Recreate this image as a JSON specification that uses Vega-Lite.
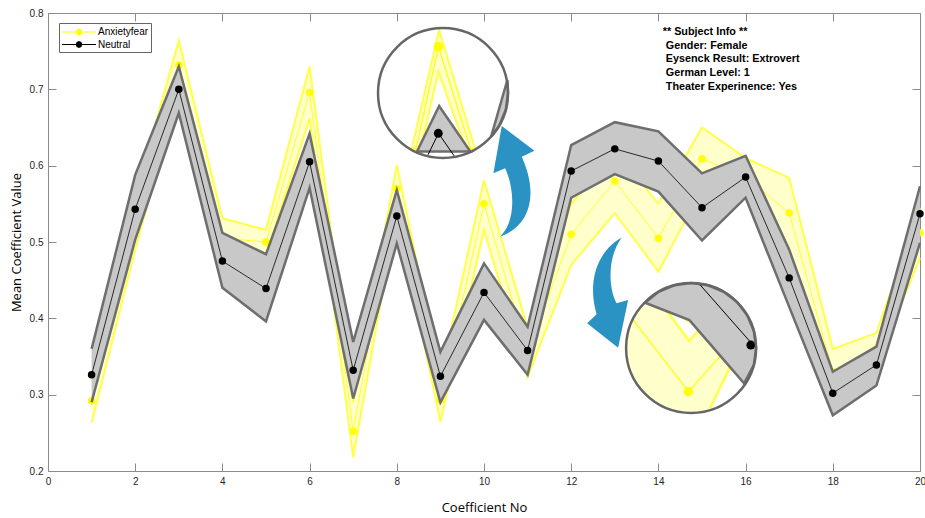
{
  "$schema": "https://vega.github.io/schema/vega-lite/v6.json",
  "width": 872,
  "height": 458,
  "autosize": "none",
  "padding": {"left": 48, "top": 13, "right": 5, "bottom": 47},
  "background": "white",
  "config": {"view": {"stroke": "#8c8c8c", "strokeWidth": 1}, "font": "Liberation Sans"},
  "datasets": {
    "d": [
      {"x": 1, "g": "Neutral", "m": 0.326, "lo": 0.290, "hi": 0.360},
      {"x": 2, "g": "Neutral", "m": 0.543, "lo": 0.503, "hi": 0.588},
      {"x": 3, "g": "Neutral", "m": 0.700, "lo": 0.669, "hi": 0.730},
      {"x": 4, "g": "Neutral", "m": 0.475, "lo": 0.440, "hi": 0.512},
      {"x": 5, "g": "Neutral", "m": 0.439, "lo": 0.396, "hi": 0.484},
      {"x": 6, "g": "Neutral", "m": 0.605, "lo": 0.571, "hi": 0.642},
      {"x": 7, "g": "Neutral", "m": 0.332, "lo": 0.295, "hi": 0.369},
      {"x": 8, "g": "Neutral", "m": 0.534, "lo": 0.498, "hi": 0.568},
      {"x": 9, "g": "Neutral", "m": 0.324, "lo": 0.290, "hi": 0.356},
      {"x": 10, "g": "Neutral", "m": 0.434, "lo": 0.398, "hi": 0.472},
      {"x": 11, "g": "Neutral", "m": 0.358, "lo": 0.326, "hi": 0.389},
      {"x": 12, "g": "Neutral", "m": 0.593, "lo": 0.558, "hi": 0.627},
      {"x": 13, "g": "Neutral", "m": 0.622, "lo": 0.589, "hi": 0.657},
      {"x": 14, "g": "Neutral", "m": 0.606, "lo": 0.566, "hi": 0.645},
      {"x": 15, "g": "Neutral", "m": 0.545, "lo": 0.502, "hi": 0.590},
      {"x": 16, "g": "Neutral", "m": 0.585, "lo": 0.558, "hi": 0.613},
      {"x": 17, "g": "Neutral", "m": 0.453, "lo": 0.415, "hi": 0.490},
      {"x": 18, "g": "Neutral", "m": 0.302, "lo": 0.273, "hi": 0.330},
      {"x": 19, "g": "Neutral", "m": 0.339, "lo": 0.312, "hi": 0.363},
      {"x": 20, "g": "Neutral", "m": 0.537, "lo": 0.499, "hi": 0.573},
      {"x": 1, "g": "Anxietyfear", "m": 0.292, "lo": 0.263, "hi": 0.320},
      {"x": 2, "g": "Anxietyfear", "m": 0.525, "lo": 0.490, "hi": 0.560},
      {"x": 3, "g": "Anxietyfear", "m": 0.732, "lo": 0.700, "hi": 0.764},
      {"x": 4, "g": "Anxietyfear", "m": 0.505, "lo": 0.480, "hi": 0.531},
      {"x": 5, "g": "Anxietyfear", "m": 0.500, "lo": 0.483, "hi": 0.516},
      {"x": 6, "g": "Anxietyfear", "m": 0.696, "lo": 0.662, "hi": 0.730},
      {"x": 7, "g": "Anxietyfear", "m": 0.252, "lo": 0.218, "hi": 0.290},
      {"x": 8, "g": "Anxietyfear", "m": 0.570, "lo": 0.540, "hi": 0.601},
      {"x": 9, "g": "Anxietyfear", "m": 0.293, "lo": 0.264, "hi": 0.322},
      {"x": 10, "g": "Anxietyfear", "m": 0.550, "lo": 0.516, "hi": 0.581},
      {"x": 11, "g": "Anxietyfear", "m": 0.355, "lo": 0.323, "hi": 0.388},
      {"x": 12, "g": "Anxietyfear", "m": 0.510, "lo": 0.470, "hi": 0.550},
      {"x": 13, "g": "Anxietyfear", "m": 0.580, "lo": 0.538, "hi": 0.620},
      {"x": 14, "g": "Anxietyfear", "m": 0.505, "lo": 0.461, "hi": 0.550},
      {"x": 15, "g": "Anxietyfear", "m": 0.609, "lo": 0.570, "hi": 0.650},
      {"x": 16, "g": "Anxietyfear", "m": 0.585, "lo": 0.560, "hi": 0.610},
      {"x": 17, "g": "Anxietyfear", "m": 0.538, "lo": 0.492, "hi": 0.584},
      {"x": 18, "g": "Anxietyfear", "m": 0.330, "lo": 0.300, "hi": 0.360},
      {"x": 19, "g": "Anxietyfear", "m": 0.360, "lo": 0.340, "hi": 0.381},
      {"x": 20, "g": "Anxietyfear", "m": 0.512, "lo": 0.479, "hi": 0.545}
    ],
    "inset1": [{"x": 9.06, "y": 0.6952}],
    "inset2": [{"x": 14.75, "y": 0.3611}],
    "insets": [{"x": 9.06, "y": 0.6952}, {"x": 14.75, "y": 0.3611}]
  },
  "resolve": {"axis": {"x": "independent", "y": "independent"}},
  "layer": [
    {
      "data": {"name": "d"},
      "transform": [{"filter": "datum.g === 'Anxietyfear'"}],
      "mark": {"type": "area", "fill": "#ffffcc", "opacity": 1},
      "encoding": {
        "x": {"field": "x", "type": "quantitative", "scale": {"domain": [0, 20], "nice": false, "zero": false},
          "axis": {"orient": "bottom", "values": [0, 2, 4, 6, 8, 10, 12, 14, 16, 18, 20], "format": "d", "tickSize": -8, "tickColor": "#8c8c8c", "domain": false, "grid": false, "labelFont": "Liberation Sans", "labelFontSize": 10, "labelColor": "#262626", "labelPadding": 13, "labelFlush": false, "title": "Coefficient No", "titleFont": "Open Sans", "titleFontSize": 13, "titleFontWeight": "normal", "titleColor": "#000", "titlePadding": 15}},
        "y": {"field": "lo", "type": "quantitative", "scale": {"domain": [0.2, 0.8], "nice": false, "zero": false},
          "axis": {"orient": "left", "values": [0.2, 0.3, 0.4, 0.5, 0.6, 0.7, 0.8], "format": ".1f", "tickSize": -8, "tickColor": "#8c8c8c", "domain": false, "grid": false, "labelFont": "Liberation Sans", "labelFontSize": 10, "labelColor": "#262626", "labelPadding": 13, "labelFlush": false, "title": "Mean Coefficient Value", "titleFont": "Open Sans", "titleFontSize": 13, "titleFontWeight": "normal", "titleColor": "#000", "titlePadding": 6}},
        "y2": {"field": "hi"}
      }
    },
    {
      "data": {"name": "d"},
      "transform": [{"filter": "datum.g === 'Anxietyfear'"}],
      "mark": {"type": "line", "stroke": "#ffff48", "strokeWidth": 2},
      "encoding": {"x": {"field": "x", "type": "quantitative", "axis": null}, "y": {"field": "lo", "type": "quantitative", "axis": null}}
    },
    {
      "data": {"name": "d"},
      "transform": [{"filter": "datum.g === 'Anxietyfear'"}],
      "mark": {"type": "line", "stroke": "#ffff48", "strokeWidth": 2},
      "encoding": {"x": {"field": "x", "type": "quantitative", "axis": null}, "y": {"field": "hi", "type": "quantitative", "axis": null}}
    },
    {
      "data": {"name": "d"},
      "transform": [{"filter": "datum.g === 'Anxietyfear'"}],
      "mark": {"type": "line", "stroke": "#ffff00", "strokeWidth": 0.8},
      "encoding": {"x": {"field": "x", "type": "quantitative", "axis": null}, "y": {"field": "m", "type": "quantitative", "axis": null}}
    },
    {
      "data": {"name": "d"},
      "transform": [{"filter": "datum.g === 'Anxietyfear'"}],
      "mark": {"type": "point", "shape": "circle", "filled": true, "fill": "#ffff00", "size": 56, "opacity": 1},
      "encoding": {"x": {"field": "x", "type": "quantitative", "axis": null}, "y": {"field": "m", "type": "quantitative", "axis": null}}
    },
    {
      "data": {"name": "d"},
      "transform": [{"filter": "datum.g === 'Neutral'"}],
      "mark": {"type": "area", "fill": "#c8c8c8", "opacity": 1},
      "encoding": {
        "x": {"field": "x", "type": "quantitative", "axis": {"orient": "top", "values": [0, 2, 4, 6, 8, 10, 12, 14, 16, 18, 20], "tickSize": -8, "tickColor": "#8c8c8c", "domain": false, "grid": false, "labels": false, "title": null}},
        "y": {"field": "lo", "type": "quantitative", "axis": {"orient": "right", "values": [0.2, 0.3, 0.4, 0.5, 0.6, 0.7, 0.8], "tickSize": -8, "tickColor": "#8c8c8c", "domain": false, "grid": false, "labels": false, "title": null}},
        "y2": {"field": "hi"}
      }
    },
    {
      "data": {"name": "d"},
      "transform": [{"filter": "datum.g === 'Neutral'"}],
      "mark": {"type": "line", "stroke": "#6e6e6e", "strokeWidth": 2.5},
      "encoding": {"x": {"field": "x", "type": "quantitative", "axis": null}, "y": {"field": "lo", "type": "quantitative", "axis": null}}
    },
    {
      "data": {"name": "d"},
      "transform": [{"filter": "datum.g === 'Neutral'"}],
      "mark": {"type": "line", "stroke": "#6e6e6e", "strokeWidth": 2.5},
      "encoding": {"x": {"field": "x", "type": "quantitative", "axis": null}, "y": {"field": "hi", "type": "quantitative", "axis": null}}
    },
    {
      "data": {"name": "d"},
      "transform": [{"filter": "datum.g === 'Neutral'"}],
      "mark": {"type": "line", "stroke": "#000000", "strokeWidth": 0.8},
      "encoding": {"x": {"field": "x", "type": "quantitative", "axis": null}, "y": {"field": "m", "type": "quantitative", "axis": null}}
    },
    {
      "data": {"name": "d"},
      "transform": [{"filter": "datum.g === 'Neutral'"}],
      "mark": {"type": "point", "shape": "circle", "filled": true, "size": 56, "opacity": 1},
      "encoding": {
        "x": {"field": "x", "type": "quantitative", "axis": null},
        "y": {"field": "m", "type": "quantitative", "axis": null},
        "color": {"field": "g", "type": "nominal", "scale": {"domain": ["Anxietyfear", "Neutral"], "range": ["#ffff00", "#000000"]},
          "legend": {"orient": "none", "legendX": 11, "legendY": 10, "title": null,
            "symbolType": "M-2.5,-0.07L2.5,-0.07L2.5,0.07L-2.5,0.07ZM0.5,0L0.35,0.35L0,0.5L-0.35,0.35L-0.5,0L-0.35,-0.35L0,-0.5L0.35,-0.35Z",
            "symbolSize": 185, "symbolStrokeWidth": 0, "symbolOffset": 11, "labelOffset": 12,
            "labelFont": "Liberation Sans", "labelFontSize": 10, "labelColor": "#000",
            "padding": 2, "rowPadding": 0.5, "strokeColor": "#666", "fillColor": "#ffffff",
            "encode": {"symbols": {"update": {"fill": {"scale": "color", "field": "value"}, "opacity": {"value": 1}}}}}}
      }
    },
    {
      "data": {"name": "insets"},
      "mark": {"type": "point", "shape": "circle", "size": 16900, "filled": true, "fill": "#ffffff", "opacity": 1},
      "encoding": {"x": {"field": "x", "type": "quantitative", "axis": null}, "y": {"field": "y", "type": "quantitative", "axis": null}}
    },
    {
      "data": {"name": "inset1"},
      "mark": {"type": "point", "shape": "M-0.48,0.85L-0.06,-0.97L0.49,0.85L0.36,0.88L-0.07,-0.33L-0.35,0.88Z", "size": 16900, "filled": true, "fill": "#ffffcc", "stroke": "#ffff48", "strokeWidth": 2, "opacity": 1},
      "encoding": {"x": {"field": "x", "type": "quantitative", "axis": null}, "y": {"field": "y", "type": "quantitative", "axis": null}}
    },
    {
      "data": {"name": "inset1"},
      "mark": {"type": "point", "shape": "M-0.42,0.88L-0.07,-0.71L0.43,0.88", "size": 16900, "filled": false, "stroke": "#ffff00", "strokeWidth": 1.2, "opacity": 1},
      "encoding": {"x": {"field": "x", "type": "quantitative", "axis": null}, "y": {"field": "y", "type": "quantitative", "axis": null}}
    },
    {
      "data": {"name": "inset1"},
      "mark": {"type": "point", "shape": "M-0.06,0.2L-0.4,0.9L0.42,0.9Z", "size": 16900, "filled": true, "fill": "#c8c8c8", "stroke": "#6e6e6e", "strokeWidth": 2.5, "opacity": 1},
      "encoding": {"x": {"field": "x", "type": "quantitative", "axis": null}, "y": {"field": "y", "type": "quantitative", "axis": null}}
    },
    {
      "data": {"name": "inset1"},
      "mark": {"type": "point", "shape": "M0.99,-0.2L0.74,0.67L0.866,0.5L0.966,0.259L1,0Z", "size": 16900, "filled": true, "fill": "#c8c8c8", "stroke": "#6e6e6e", "strokeWidth": 2.5, "opacity": 1},
      "encoding": {"x": {"field": "x", "type": "quantitative", "axis": null}, "y": {"field": "y", "type": "quantitative", "axis": null}}
    },
    {
      "data": {"name": "inset1"},
      "mark": {"type": "point", "shape": "M-0.23,0.95L-0.07,0.62L0.18,0.98", "size": 16900, "filled": false, "stroke": "#000000", "strokeWidth": 1, "opacity": 1},
      "encoding": {"x": {"field": "x", "type": "quantitative", "axis": null}, "y": {"field": "y", "type": "quantitative", "axis": null}}
    },
    {
      "data": {"name": "inset2"},
      "mark": {"type": "point", "shape": "M-0.708,-0.697L-0.866,-0.5L-0.966,-0.259L-1,0L-0.966,0.259L-0.866,0.5L-0.707,0.707L-0.5,0.866L-0.259,0.966L0,1L0.29,0.93L0.6,0.29L-0.026,-0.43Z", "size": 16900, "filled": true, "fill": "#ffffcc", "strokeWidth": 0, "opacity": 1},
      "encoding": {"x": {"field": "x", "type": "quantitative", "axis": null}, "y": {"field": "y", "type": "quantitative", "axis": null}}
    },
    {
      "data": {"name": "inset2"},
      "mark": {"type": "point", "shape": "M0.29,0.93L0.6,0.29", "size": 16900, "filled": false, "stroke": "#ffff48", "strokeWidth": 2.5, "opacity": 1},
      "encoding": {"x": {"field": "x", "type": "quantitative", "axis": null}, "y": {"field": "y", "type": "quantitative", "axis": null}}
    },
    {
      "data": {"name": "inset2"},
      "mark": {"type": "point", "shape": "M-0.4,-0.6L-0.03,-0.11L0.16,-0.32Z", "size": 16900, "filled": true, "fill": "#ffffff", "stroke": "#ffff48", "strokeWidth": 2.5, "opacity": 1},
      "encoding": {"x": {"field": "x", "type": "quantitative", "axis": null}, "y": {"field": "y", "type": "quantitative", "axis": null}}
    },
    {
      "data": {"name": "inset2"},
      "mark": {"type": "point", "shape": "M-0.89,-0.43L-0.04,0.67L0.45,0.12", "size": 16900, "filled": false, "stroke": "#ffff00", "strokeWidth": 1.2, "opacity": 1},
      "encoding": {"x": {"field": "x", "type": "quantitative", "axis": null}, "y": {"field": "y", "type": "quantitative", "axis": null}}
    },
    {
      "data": {"name": "inset2"},
      "mark": {"type": "point", "shape": "M-0.708,-0.697L-0.026,-0.43L0.815,0.543L0.966,0.259L1,0L0.966,-0.259L0.866,-0.5L0.707,-0.707L0.5,-0.866L0.259,-0.966L0,-1L-0.259,-0.966L-0.5,-0.866Z", "size": 16900, "filled": true, "fill": "#c8c8c8", "stroke": "#6e6e6e", "strokeWidth": 2.5, "opacity": 1},
      "encoding": {"x": {"field": "x", "type": "quantitative", "axis": null}, "y": {"field": "y", "type": "quantitative", "axis": null}}
    },
    {
      "data": {"name": "inset2"},
      "mark": {"type": "point", "shape": "M0.14,-0.97L0.95,-0.05", "size": 16900, "filled": false, "stroke": "#000000", "strokeWidth": 1, "opacity": 1},
      "encoding": {"x": {"field": "x", "type": "quantitative", "axis": null}, "y": {"field": "y", "type": "quantitative", "axis": null}}
    },
    {
      "data": {"values": [{"x": 8.952, "y": 0.7559}, {"x": 14.686, "y": 0.3039}]},
      "mark": {"type": "point", "shape": "circle", "size": 90, "filled": true, "fill": "#ffff00", "opacity": 1},
      "encoding": {"x": {"field": "x", "type": "quantitative", "axis": null}, "y": {"field": "y", "type": "quantitative", "axis": null}}
    },
    {
      "data": {"values": [{"x": 8.952, "y": 0.6424}, {"x": 16.12, "y": 0.365}]},
      "mark": {"type": "point", "shape": "circle", "size": 80, "filled": true, "fill": "#000000", "opacity": 1},
      "encoding": {"x": {"field": "x", "type": "quantitative", "axis": null}, "y": {"field": "y", "type": "quantitative", "axis": null}}
    },
    {
      "data": {"name": "insets"},
      "mark": {"type": "point", "shape": "circle", "size": 16900, "filled": false, "stroke": "#666666", "strokeWidth": 2.5, "opacity": 1},
      "encoding": {"x": {"field": "x", "type": "quantitative", "axis": null}, "y": {"field": "y", "type": "quantitative", "axis": null}}
    },
    {
      "data": {"values": [{"x": 10.69, "y": 0.5793}]},
      "mark": {"type": "point", "shape": "M-0.25,0.985C0.28,0.8 0.45,0.25 0.137,-0.443L0.363,-0.55L-0.22,-0.99L-0.37,-0.146L-0.16,-0.236C0,0.1 0.05,0.7 -0.25,0.985Z", "size": 12544, "filled": true, "fill": "#2a93c4", "strokeWidth": 0, "opacity": 1},
      "encoding": {"x": {"field": "x", "type": "quantitative", "axis": null}, "y": {"field": "y", "type": "quantitative", "axis": null}}
    },
    {
      "data": {"values": [{"x": 12.84, "y": 0.4339}]},
      "mark": {"type": "point", "shape": "M0.245,-0.979C-0.1,-0.8 -0.4,-0.3 -0.2,0.389L-0.37,0.55L0.184,0.986L0.3625,0.134L0.155,0.193C0,-0.1 0,-0.65 0.245,-0.979Z", "size": 12544, "filled": true, "fill": "#2a93c4", "strokeWidth": 0, "opacity": 1},
      "encoding": {"x": {"field": "x", "type": "quantitative", "axis": null}, "y": {"field": "y", "type": "quantitative", "axis": null}}
    },
    {
      "data": {"values": [{"x": 14.1, "y": 0.7716, "t": "** Subject Info **"}]},
      "mark": {"type": "text", "align": "left", "baseline": "alphabetic", "font": "Liberation Sans", "fontWeight": "bold", "fontSize": 10.8, "fill": "#000000"},
      "encoding": {"x": {"field": "x", "type": "quantitative", "axis": null}, "y": {"field": "y", "type": "quantitative", "axis": null}, "text": {"field": "t"}}
    },
    {
      "data": {"values": [{"x": 14.17, "y": 0.7534, "t": "Gender: Female\nEysenck Result: Extrovert\nGerman Level: 1\nTheater Experinence: Yes"}]},
      "mark": {"type": "text", "align": "left", "baseline": "alphabetic", "lineBreak": "\n", "lineHeight": 13.9, "font": "Liberation Sans", "fontWeight": "bold", "fontSize": 10.8, "fill": "#000000"},
      "encoding": {"x": {"field": "x", "type": "quantitative", "axis": null}, "y": {"field": "y", "type": "quantitative", "axis": null}, "text": {"field": "t"}}
    }
  ]
}
